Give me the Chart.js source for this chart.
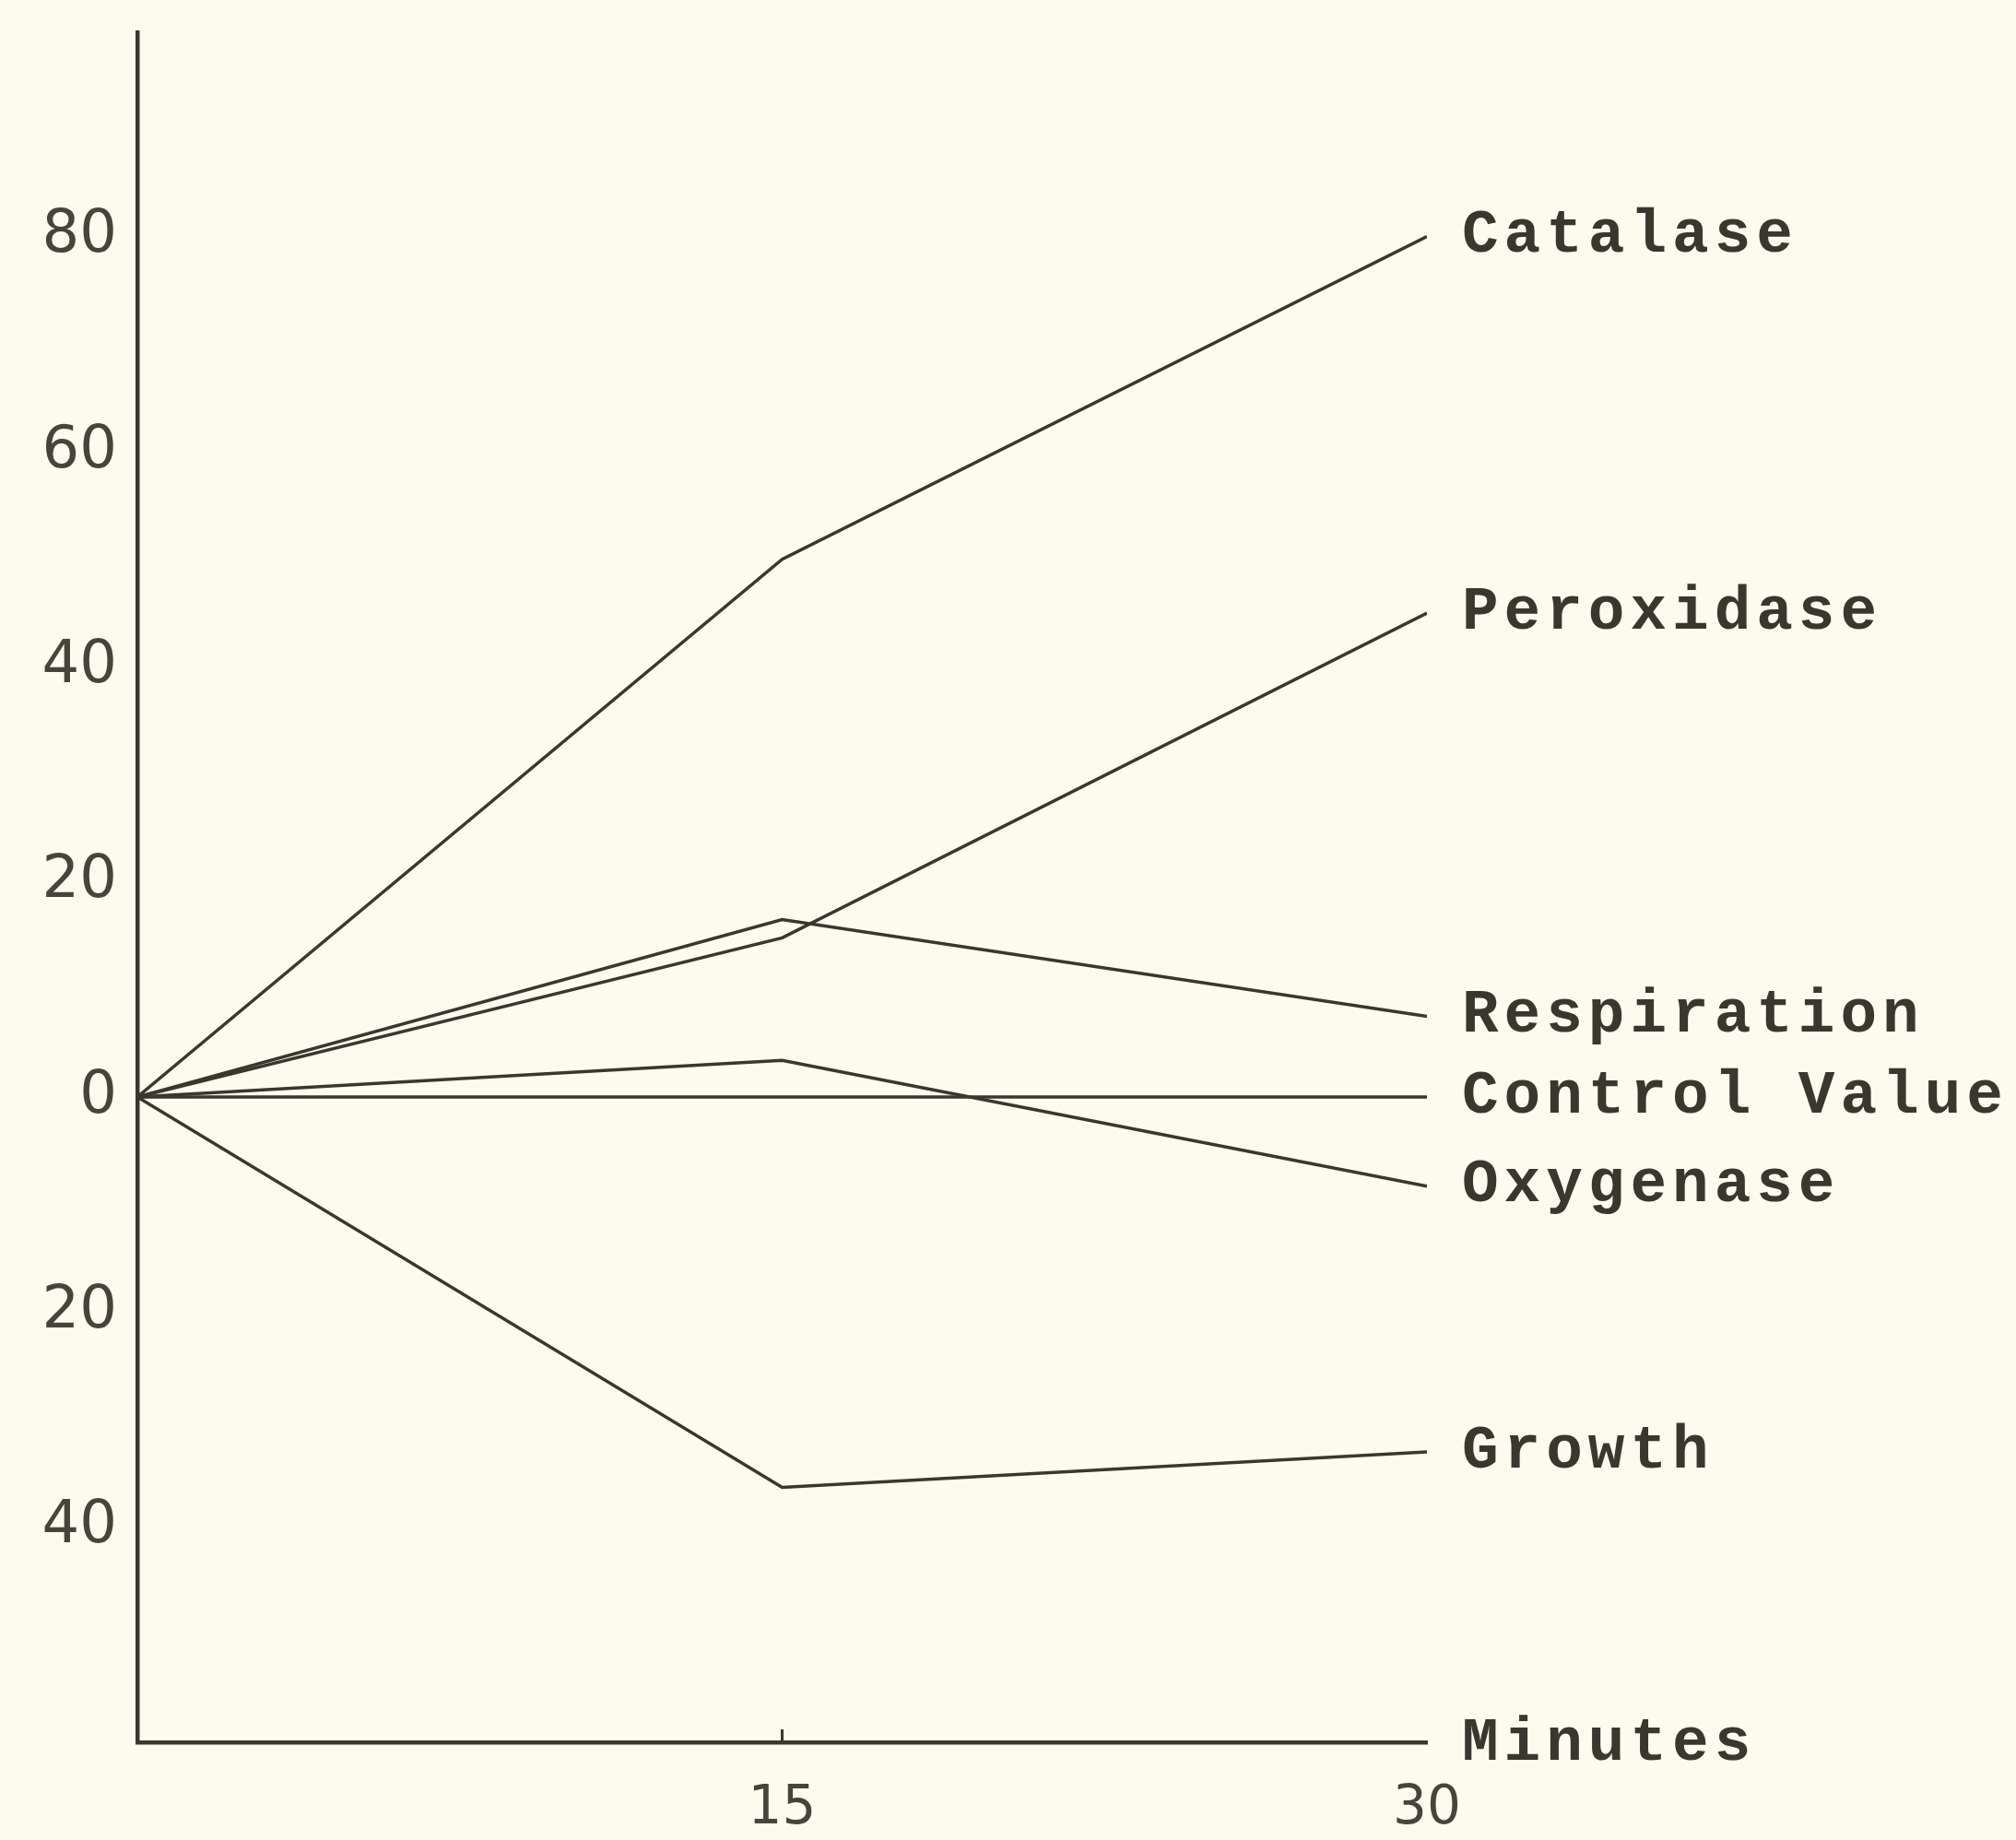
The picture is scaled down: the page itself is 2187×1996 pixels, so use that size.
<!DOCTYPE html>
<html>
<head>
<meta charset="utf-8">
<script src="https://cdn.jsdelivr.net/npm/chart.js@4/dist/chart.umd.min.js"></script>
<style>
  html, body { margin: 0; padding: 0; background: #fcfbee; }
  canvas { display: block; }
</style>
</head>
<body>
<canvas id="chart1" width="2187" height="1996"></canvas>
<script>
// time points (minutes)
var minutes = [0, 15, 30];

// series values (below-zero part of the axis is shown unsigned)
var catalase = [0, 50, 80];
var peroxidase = [0, 14.8, 45];
var respiration = [0, 16.5, 7.5];
var control = [0, 0, 0];
var oxygenase = [0, 3.4, -8.3];
var growth = [0, -36.3, -33];

var seriesNames = ['Catalase', 'Peroxidase', 'Respiration', 'Control Value', 'Oxygenase', 'Growth'];
var seriesValues = [catalase, peroxidase, respiration, control, oxygenase, growth];

var yTicks = [80, 60, 40, 20, 0, -20, -40];
var xTicks = [15, 30];
var xTitle = 'Minutes';

var ink = '#38382f';
var paper = '#fcfbee';

var datasets = seriesNames.map(function (name, i) {
    return {
        label: name,
        data: minutes.map(function (m, j) { return { x: m, y: seriesValues[i][j] }; }),
        borderColor: ink,
        borderWidth: 3.5,
        pointRadius: 0,
        tension: 0,
        fill: false
    };
});

// paper colour behind everything
var paperBg = {
    id: 'paperBg',
    beforeDraw: function (chart) {
        var ctx = chart.ctx;
        ctx.save();
        ctx.fillStyle = paper;
        ctx.fillRect(0, 0, chart.width, chart.height);
        ctx.restore();
    }
};

// typewriter labels at the end of each line + axis title
var endLabels = {
    id: 'endLabels',
    afterDraw: function (chart) {
        var ctx = chart.ctx;
        var xs = chart.scales.x;
        ctx.save();
        ctx.fillStyle = ink;
        ctx.font = 'bold 66px "Liberation Mono"';
        ctx.letterSpacing = '6px';
        ctx.textAlign = 'left';
        ctx.textBaseline = 'middle';
        chart.data.datasets.forEach(function (ds, i) {
            var pts = chart.getDatasetMeta(i).data;
            var last = pts[pts.length - 1];
            ctx.fillText(ds.label, last.x + 38, last.y);
        });
        ctx.fillText(xTitle, xs.right + 38, xs.top + 2);

        // little tick on the x axis at 15
        ctx.strokeStyle = ink;
        ctx.lineWidth = 3;
        var px = xs.getPixelForValue(15);
        ctx.beginPath();
        ctx.moveTo(px, xs.top);
        ctx.lineTo(px, xs.top - 14);
        ctx.stroke();
        ctx.restore();
    }
};

var chart1 = new Chart(document.getElementById('chart1'), {
    type: 'line',
    data: { datasets: datasets },
    options: {
        responsive: false,
        animation: false,
        events: [],
        layout: { padding: { left: 0, top: 35, right: 639, bottom: 0 } },
        plugins: {
            legend: { display: false },
            tooltip: { enabled: false }
        },
        scales: {
            x: {
                type: 'linear',
                min: 0,
                max: 30,
                afterBuildTicks: function (scale) {
                    scale.ticks = xTicks.map(function (v) { return { value: v }; });
                },
                afterFit: function (scale) {
                    scale.height = 106;
                    scale.paddingLeft = 0;
                    scale.paddingRight = 0;
                },
                grid: { display: false, drawTicks: false },
                border: { display: true, color: ink, width: 4.5 },
                ticks: {
                    color: '#45453c',
                    font: { family: 'DejaVu Sans', size: 58 },
                    padding: 38,
                    maxRotation: 0,
                    autoSkip: false
                }
            },
            y: {
                type: 'linear',
                min: -60,
                max: 99,
                afterBuildTicks: function (scale) {
                    scale.ticks = yTicks.map(function (v) { return { value: v }; });
                },
                afterFit: function (scale) {
                    scale.width = 149;
                    scale.paddingTop = 0;
                    scale.paddingBottom = 0;
                },
                grid: { display: false, drawTicks: false },
                border: { display: true, color: ink, width: 4.5 },
                ticks: {
                    color: '#45453c',
                    font: { family: 'DejaVu Sans', size: 64 },
                    padding: 22,
                    autoSkip: false,
                    callback: function (v) { return String(Math.abs(v)); }
                }
            }
        }
    },
    plugins: [paperBg, endLabels]
});
</script>
</body>
</html>
